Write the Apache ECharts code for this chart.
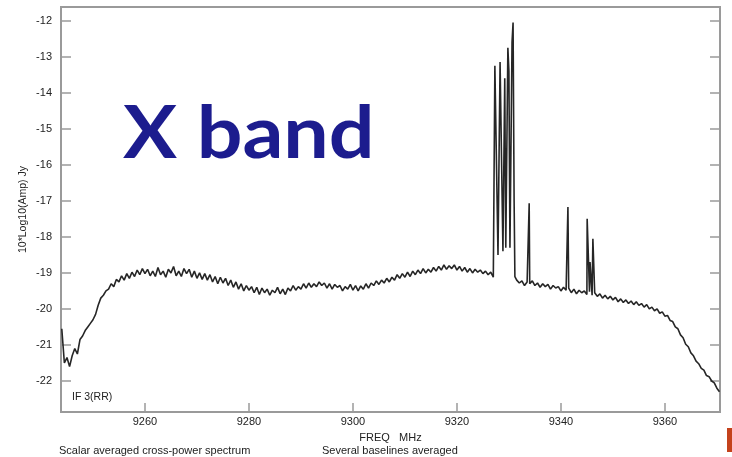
<!DOCTYPE html>
<html>
<head>
<meta charset="utf-8">
<script src="https://cdn.jsdelivr.net/npm/echarts@6/dist/echarts.min.js"></script>
<style>
  html, body { margin: 0; padding: 0; background: #fff; }
  #chart { width: 732px; height: 457px; }
</style>
</head>
<body>
<div id="chart"></div>
<script>
// tick labels
const freqTicks = [9260, 9280, 9300, 9320, 9340, 9360];
const ampTicks = [-22, -21, -20, -19, -18, -17, -16, -15, -14, -13, -12];

// spectrum channels, 0.5 MHz apart starting at 9244 MHz (null = inside the spike forest)
const freqStart = 9244;
const freqStep = 0.5;
const baseAmp = [
  -20.55, -21.5, -21.35, -21.6, -21.3, -21.1, -21.25, -20.85, -20.75, -20.6,
  -20.5, -20.4, -20.3, -20.15, -19.9, -19.7, -19.62, -19.5, -19.45, -19.3,
  -19.38, -19.18, -19.25, -19.08, -19.2, -19.02, -19.15, -18.98, -19.1, -18.92,
  -19.05, -18.88, -19.02, -18.9, -19.08, -18.95, -19.1, -18.85, -19.05, -18.95,
  -19.12, -18.9, -19.0, -18.82, -19.08, -18.95, -19.1, -18.88, -19.02, -18.9,
  -19.12, -18.95, -19.15, -19.0, -19.18, -19.02, -19.2, -19.05, -19.25, -19.1,
  -19.3, -19.12, -19.28, -19.15, -19.35, -19.2, -19.4, -19.25, -19.45, -19.3,
  -19.5, -19.35, -19.48, -19.38, -19.55, -19.4, -19.6, -19.42, -19.55, -19.45,
  -19.62, -19.48, -19.55, -19.4, -19.58, -19.45, -19.6, -19.42, -19.5, -19.35,
  -19.48, -19.38, -19.45, -19.3, -19.42, -19.28, -19.4, -19.3, -19.38, -19.25,
  -19.35, -19.28, -19.42, -19.3, -19.45, -19.32, -19.4, -19.35, -19.5, -19.38,
  -19.45, -19.32, -19.48, -19.35, -19.5, -19.36, -19.45, -19.3, -19.42, -19.28,
  -19.35, -19.22, -19.32, -19.2, -19.28, -19.15, -19.25, -19.12, -19.2, -19.05,
  -19.15, -19.02, -19.12, -18.98, -19.1, -18.95, -19.05, -18.92, -19.02, -18.88,
  -19.0, -18.9, -18.98, -18.85, -18.95, -18.82, -18.92, -18.78, -18.9, -18.8,
  -18.88, -18.78, -18.92, -18.82, -18.95, -18.85, -18.98, -18.88, -19.0, -18.9,
  -18.98, -18.92, -19.02, -18.95, -19.05, -18.98, -19.12, null, null, null,
  null, null, null, null, null, -19.2, -19.28, -19.22, -19.35, -19.25,
  -19.3, -19.22, -19.35, -19.28, -19.4, -19.3, -19.38, -19.32, -19.45, -19.35,
  -19.42, -19.38, -19.5, -19.4, -19.48, -19.42, -19.55, -19.45, -19.58, -19.48,
  -19.55, -19.5, -19.6, -19.52, -19.62, -19.55, -19.65, -19.58, -19.7, -19.62,
  -19.72, -19.65, -19.75, -19.68, -19.8, -19.72, -19.82, -19.75, -19.85, -19.78,
  -19.88, -19.8, -19.9, -19.85, -19.95, -19.88, -20.0, -19.95, -20.05, -20.0,
  -20.12, -20.08, -20.2, -20.18, -20.32, -20.35, -20.5, -20.55, -20.72, -20.8,
  -20.98, -21.05, -21.22, -21.3, -21.45, -21.52, -21.65, -21.7, -21.85, -21.88,
  -22.0, -22.05, -22.2, -22.3
];

// the maser forest around 9327-9331 MHz
const forestFreq = [9327.3, 9327.5, 9327.9, 9328.3, 9328.65, 9328.85, 9329.2, 9329.4,
  9329.8, 9330.0, 9330.2, 9330.6, 9330.8, 9331.0, 9331.15];
const forestAmp = [-13.25, -13.2, -18.5, -13.15, -13.1, -18.4, -13.6, -18.3,
  -12.75, -13.4, -18.3, -12.6, -12.05, -17.0, -19.1];

// single lines further up the band
const lineFreq = [9333.9, 9341.35, 9345.05, 9345.6, 9346.15];
const lineAmp = [-17.07, -17.17, -17.5, -18.7, -18.05];

const points = baseAmp
  .map((v, i) => (v === null ? null : [freqStart + i * freqStep, v]))
  .filter(p => p)
  .concat(forestFreq.map((f, i) => [f, forestAmp[i]]))
  .concat(lineFreq.map((f, i) => [f, lineAmp[i]]))
  .sort((a, b) => a[0] - b[0]);

const chart = echarts.init(document.getElementById('chart'));

const frameColor = '#9a9a9a';
const labelFont = '"Liberation Sans", Arial, sans-serif';

const option = {
  animation: false,
  backgroundColor: '#fff',
  grid: {
    left: 61, right: 12, top: 7, bottom: 45,
    show: true,
    borderColor: frameColor,
    borderWidth: 2
  },
  xAxis: {
    type: 'value',
    min: 9243.85,
    max: 9370.6,
    name: 'FREQ   MHz',
    nameLocation: 'middle',
    nameGap: 20,
    nameTextStyle: { color: '#222', fontSize: 11, fontFamily: labelFont },
    axisLine: { show: false },
    axisTick: {
      show: true, inside: true, length: 9,
      customValues: freqTicks,
      lineStyle: { color: frameColor, width: 1.5 }
    },
    axisLabel: {
      customValues: freqTicks,
      formatter: v => String(v),
      color: '#222', fontSize: 11, fontFamily: labelFont, margin: 4
    },
    splitLine: { show: false }
  },
  yAxis: [
    {
      type: 'value',
      min: -22.86,
      max: -11.62,
      name: '10*Log10(Amp) Jy',
      nameLocation: 'middle',
      nameGap: 32,
      nameMoveOverlap: false,
      nameTextStyle: { color: '#222', fontSize: 10.5, fontFamily: labelFont },
      axisLine: { show: false },
      axisTick: {
        show: true, inside: true, length: 10,
        customValues: ampTicks,
        lineStyle: { color: frameColor, width: 1.5 }
      },
      axisLabel: {
        customValues: ampTicks,
        color: '#222', fontSize: 11, fontFamily: labelFont, margin: 9
      },
      splitLine: { show: false }
    },
    {
      type: 'value',
      position: 'right',
      min: -22.86,
      max: -11.62,
      axisLine: { show: false },
      axisTick: {
        show: true, inside: true, length: 10,
        customValues: ampTicks,
        lineStyle: { color: frameColor, width: 1.5 }
      },
      axisLabel: { show: false },
      splitLine: { show: false }
    }
  ],
  series: [
    {
      type: 'line',
      data: points,
      showSymbol: false,
      lineStyle: { color: '#262626', width: 1.6 },
      clip: true
    }
  ],
  graphic: [
    {
      type: 'text', x: 123, y: 99,
      scaleX: 1.12,
      style: {
        text: 'X band',
        fill: '#1c1c8e',
        font: 'bold 72px Lato, "Open Sans", sans-serif'
      }
    },
    {
      type: 'text', left: 72, top: 392,
      style: { text: 'IF 3(RR)', fill: '#222', font: '10.5px "Liberation Sans", Arial, sans-serif' }
    },
    {
      type: 'text', left: 59, top: 445,
      style: { text: 'Scalar averaged cross-power spectrum', fill: '#222', font: '11px "Liberation Sans", Arial, sans-serif' }
    },
    {
      type: 'text', left: 322, top: 445,
      style: { text: 'Several baselines averaged', fill: '#222', font: '11px "Liberation Sans", Arial, sans-serif' }
    },
    {
      type: 'rect', left: 727, top: 428,
      shape: { width: 5, height: 24 },
      style: { fill: '#c4421c' }
    }
  ]
};

chart.setOption(option);
</script>
</body>
</html>
